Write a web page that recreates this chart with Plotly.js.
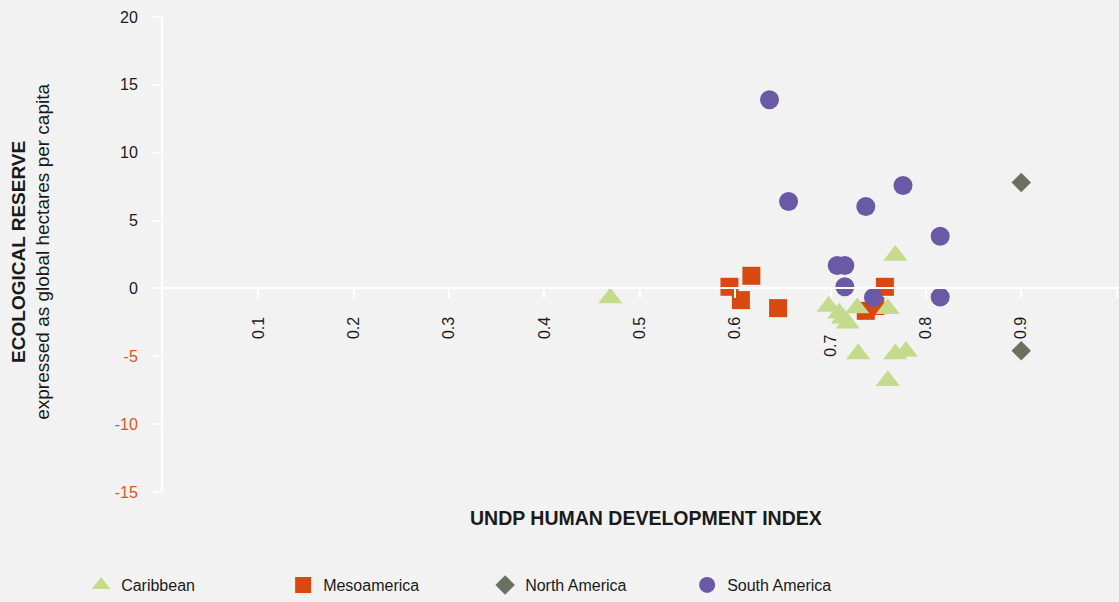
<!DOCTYPE html>
<html>
<head>
<meta charset="utf-8">
<script src="https://cdn.plot.ly/plotly-3.0.1.min.js"></script>
<style>
  html, body { margin: 0; padding: 0; background: #f2f2f2; }
  #chart { width: 1119px; height: 602px; }
</style>
</head>
<body>
<div id="chart"></div>
<script>
// ---- data ----
const caribbeanX = [0.469, 0.768, 0.698, 0.709, 0.713, 0.718, 0.728, 0.760, 0.729, 0.768, 0.779, 0.760];
const caribbeanY = [-0.70, 2.43, -1.33, -1.82, -2.19, -2.56, -1.45, -1.50, -4.84, -4.84, -4.65, -6.81];

const mesoX = [0.594, 0.617, 0.606, 0.645, 0.757, 0.737, 0.747];
const mesoY = [0.12, 0.93, -0.86, -1.45, 0.12, -1.65, -1.30];

const northX = [0.900, 0.900];
const northY = [7.81, -4.59];

const southX = [0.636, 0.656, 0.737, 0.776, 0.815, 0.707, 0.715, 0.715, 0.745, 0.815];
const southY = [13.90, 6.41, 6.04, 7.59, 3.85, 1.69, 1.69, 0.12, -0.66, -0.64];

const xTickVals = [0.1, 0.2, 0.3, 0.4, 0.5, 0.6, 0.7, 0.8, 0.9, 1];
const xTickText = ['0.1', '0.2', '0.3', '0.4', '0.5', '0.6', '0.7\u00a0\u00a0\u00a0\u00a0', '0.8', '0.9', '1'];
const yTickVals = [-15, -10, -5, 0, 5, 10, 15, 20];
const yTickLabels = ['-15', '-10', '-5', '0', '5', '10', '15', '20'];

const NEG = '#e0541d';
const yTickText = yTickVals.map((v, i) =>
  v < 0 ? '<span style="color:' + NEG + '">' + yTickLabels[i] + '</span>' : yTickLabels[i]);

const FONT = 'Liberation Sans, Arial, Helvetica, sans-serif';

const traces = [
  {
    name: 'Mesoamerica', x: mesoX, y: mesoY, type: 'scatter', mode: 'markers',
    marker: { symbol: 'square', size: 18, color: '#d9480f' }, legendrank: 2
  },
  {
    name: 'Caribbean', x: caribbeanX, y: caribbeanY, type: 'scatter', mode: 'markers',
    marker: { symbol: 'triangle-up', size: 21, color: '#c4da8c' }, legendrank: 1
  },
  {
    name: 'North America', x: northX, y: northY, type: 'scatter', mode: 'markers',
    marker: { symbol: 'diamond', size: 15, color: '#6b7060' }, legendrank: 3
  },
  {
    name: 'South America', x: southX, y: southY, type: 'scatter', mode: 'markers',
    marker: { symbol: 'circle', size: 19, color: '#6a5aa5' }, legendrank: 4
  }
];

const layout = {
  width: 1119, height: 602,
  margin: { l: 163, r: 0, t: 17, b: 110 },
  paper_bgcolor: '#f2f2f2', plot_bgcolor: '#f2f2f2',
  font: { family: FONT, size: 16, color: '#1a1a1a' },
  showlegend: true,
  legend: {
    orientation: 'h', xref: 'container', yref: 'container',
    x: 0.0725, y: 0, xanchor: 'left', yanchor: 'bottom',
    entrywidth: 157, entrywidthmode: 'pixels',
    font: { family: FONT, size: 16, color: '#1a1a1a' },
    bgcolor: 'rgba(0,0,0,0)'
  },
  xaxis: {
    range: [0, 1.0025], anchor: 'free', position: 15 / 35,
    showgrid: false, zeroline: false,
    showline: true, linecolor: '#ffffff', linewidth: 2,
    ticks: 'outside', ticklen: 9, tickwidth: 2, tickcolor: '#ffffff',
    tickmode: 'array', tickvals: xTickVals, ticktext: xTickText,
    tickangle: -90, ticklabelstandoff: 12,
    tickfont: { family: FONT, size: 16, color: '#1a1a1a' }
  },
  yaxis: {
    range: [-15, 20],
    showgrid: false, zeroline: false,
    showline: true, linecolor: '#ffffff', linewidth: 2,
    ticks: 'outside', ticklen: 8, tickwidth: 2, tickcolor: '#ffffff',
    tickmode: 'array', tickvals: yTickVals, ticktext: yTickText,
    ticklabelstandoff: 12,
    tickfont: { family: FONT, size: 16, color: '#1a1a1a' }
  },
  annotations: [
    {
      text: '<b>ECOLOGICAL RESERVE</b><br>expressed as global hectares per capita',
      textangle: -90, xref: 'paper', yref: 'paper',
      x: (31 - 163) / 953.6, y: 0.505, xanchor: 'center', yanchor: 'middle',
      showarrow: false, align: 'center',
      font: { family: FONT, size: 19, color: '#1a1a1a' }
    },
    {
      text: '<b>UNDP HUMAN DEVELOPMENT INDEX</b>',
      xref: 'paper', yref: 'paper',
      x: (645 - 163) / 953.6, y: (492 - 518) / 475, xanchor: 'center', yanchor: 'middle',
      showarrow: false,
      font: { family: FONT, size: 19.5, color: '#1a1a1a' }
    }
  ]
};

Plotly.newPlot('chart', traces, layout, { displayModeBar: false, staticPlot: true });
</script>
</body>
</html>
